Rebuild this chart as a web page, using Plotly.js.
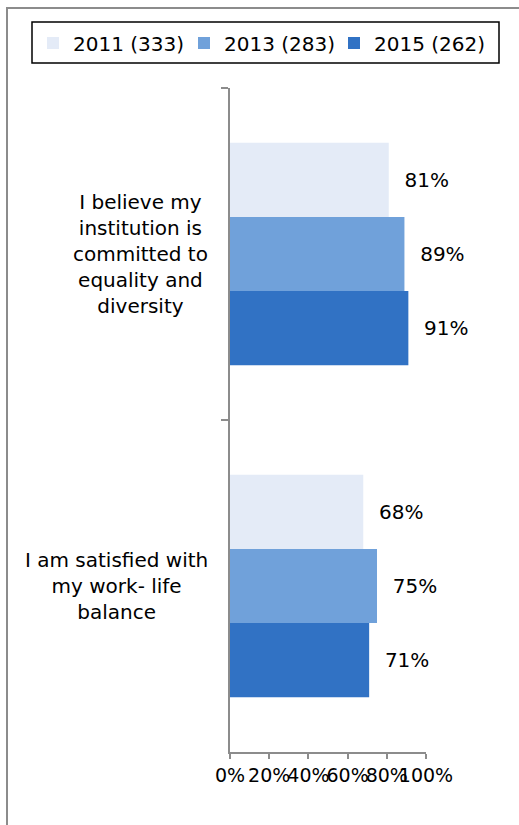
<!DOCTYPE html>
<html>
<head>
<meta charset="utf-8">
<script src="https://cdn.plot.ly/plotly-3.0.1.min.js"></script>
<style>
  html, body { margin: 0; padding: 0; background: #ffffff; }
  #frame { position: absolute; left: 6px; top: 7px; width: 700px; height: 900px;
           border-left: 2px solid #8c8c8c; border-top: 2px solid #8c8c8c; }
  #chart { position: absolute; left: 0; top: 0; width: 519px; height: 825px; }
</style>
</head>
<body>
<div id="frame"></div>
<div id="chart"></div>
<script>
// ---- data ----
var categories = [
  "I believe my<br>institution is<br>committed to<br>equality and<br>diversity",
  "I am satisfied with<br>my work- life<br>balance"
];
var seriesNames = ["2011 (333)", "2013 (283)", "2015 (262)"];
var values2011 = [81, 68];
var values2013 = [89, 75];
var values2015 = [91, 71];
var xTickVals = [0, 20, 40, 60, 80, 100];
var xTickText = ["0%", "20%", "40%", "60%", "80%", "100%"];

var colors = ["#E4EBF7", "#70A1DA", "#3172C4"];
var seriesValues = [values2011, values2013, values2015];

// plot-area geometry (pixels) used for placing the legend pieces
var W = 519, H = 825, ML = 230, MR = 93, MT = 88, MB = 73;
var PW = W - ML - MR, PH = H - MT - MB;
function px2x(p) { return (p - ML) / PW; }
function px2y(p) { return (H - MB - p) / PH; }

var legendIds = ["legend", "legend2", "legend3"];
var legendLeftPx = [33, 184, 334];

var traces = seriesNames.map(function (name, i) {
  return {
    type: "bar",
    orientation: "h",
    name: name,
    legend: legendIds[i],
    y: categories,
    x: seriesValues[i],
    marker: { color: colors[i], line: { width: 0 } },
    texttemplate: "\u00a0\u00a0%{x}%",
    textposition: "outside",
    textfont: { family: "DejaVu Sans", size: 20, color: "#000000" },
    constraintext: "none",
    cliponaxis: false,
    hoverinfo: "skip"
  };
});

var annotations = categories.map(function (c) {
  return {
    xref: "paper", yref: "y", x: 0, y: c, xanchor: "right", yanchor: "middle",
    xshift: -20, text: c, showarrow: false, align: "center",
    font: { family: "DejaVu Sans", size: 20, color: "#000000" }
  };
});

var layout = {
  width: W, height: H,
  margin: { l: ML, r: MR, t: MT, b: MB, pad: 0 },
  paper_bgcolor: "rgba(0,0,0,0)",
  plot_bgcolor: "rgba(0,0,0,0)",
  barmode: "group",
  bargap: 0.33,
  bargroupgap: 0,
  showlegend: true,
  xaxis: {
    range: [0, 100],
    tickvals: xTickVals, ticktext: xTickText,
    tickangle: 0,
    showgrid: false, zeroline: false,
    showline: true, linecolor: "#8c8c8c", linewidth: 2,
    ticks: "outside", ticklen: 5, tickcolor: "#8c8c8c", tickwidth: 2,
    tickfont: { family: "DejaVu Sans", size: 19, color: "#000000" },
    fixedrange: true
  },
  yaxis: {
    type: "category",
    autorange: "reversed",
    showticklabels: false,
    showgrid: false, zeroline: false,
    showline: true, linecolor: "#8c8c8c", linewidth: 2,
    ticks: "outside", ticklen: 7, tickcolor: "#8c8c8c", tickwidth: 2,
    tickson: "boundaries",
    fixedrange: true
  },
  shapes: [{
    type: "rect", xref: "paper", yref: "paper",
    x0: px2x(32), x1: px2x(499), y0: px2y(63), y1: px2y(22),
    line: { color: "#000000", width: 1.5 }, fillcolor: "rgba(0,0,0,0)"
  }],
  annotations: annotations,
  font: { family: "DejaVu Sans", color: "#000000" }
};

legendIds.forEach(function (id, i) {
  layout[id] = {
    orientation: "h",
    x: px2x(legendLeftPx[i]), y: px2y(43), xanchor: "left", yanchor: "middle",
    borderwidth: 0, bgcolor: "rgba(0,0,0,0)",
    font: { family: "DejaVu Sans", size: 20, color: "#000000" }
  };
});

Plotly.newPlot("chart", traces, layout, { displayModeBar: false, staticPlot: true });
</script>
</body>
</html>
